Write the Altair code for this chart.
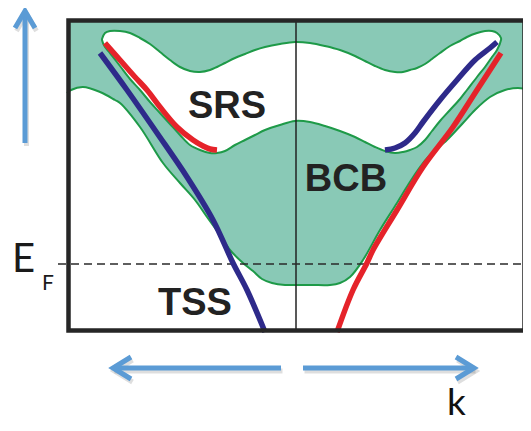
import altair as alt
import pandas as pd

# ---------------- data (schematic coordinates; k right, E down) -------------
# lower boundary of the bulk conduction band (teal region boundary)
lower_k = [67, 71, 83, 100, 115, 120, 140, 163, 180, 195, 207, 220, 230, 243, 253, 262, 272, 285,
           295, 312, 330, 340, 350, 363, 380, 397, 408, 420, 430, 447, 463, 475, 490, 505, 518, 531]
lower_E = [93, 90, 87, 92, 100, 103, 127, 163, 183, 200, 217, 235, 250, 263, 271, 279, 283, 285,
           285, 285, 285, 283, 277, 260, 230, 203, 185, 167, 155, 140, 123, 110, 97, 90, 88, 90]

# white pocket (surface resonance gap) : upper and lower edges
pocket_k = [102, 105, 110, 120, 130, 140, 150, 160, 170, 180, 190, 200, 210, 217, 225, 235, 245, 255,
            265, 280, 295, 310, 325, 340, 355, 365, 375, 385, 395, 403, 410, 417, 425, 432, 440, 450,
            460, 467, 477, 485, 492, 497, 501]
pocket_top = [39, 33, 31, 31, 33, 38, 44, 52, 60, 67, 71, 72, 70, 67, 63, 58, 54, 50,
              47, 44, 42, 43, 46, 50, 56, 61, 66, 70, 72, 72, 70, 68, 64, 59, 53, 46,
              41, 37, 33, 31, 31, 33, 38]
pocket_bot = [40, 47, 53, 66, 79, 90, 102, 113, 124, 135, 145, 150, 153, 153, 151, 145, 140, 135,
              130, 125, 121, 122, 126, 131, 137, 142, 147, 151, 153, 152, 150, 147, 140, 131, 121, 110,
              99, 90, 77, 67, 57, 50, 40]

# topological surface state branches
tss_left_k = [100, 127, 157, 187, 213, 233, 247, 265]
tss_left_E = [53, 90, 133, 177, 220, 263, 290, 332]
tss_right_k = [337, 353, 367, 373, 397, 423, 453, 477, 501]
tss_right_E = [332, 290, 263, 250, 210, 167, 127, 90, 53]

# surface resonance state branches
srs_left_k = [105, 120, 135, 147, 160, 177, 193, 203, 210, 217]
srs_left_E = [43, 60, 77, 90, 107, 127, 140, 146, 149, 150]
srs_right_k = [385, 395, 405, 415, 423, 440, 457, 475, 490, 497]
srs_right_E = [150, 148, 143, 133, 122, 100, 80, 60, 48, 42]

# frame, k=0 line and Fermi level
frame_k = [68.5, 524.5]
frame_E = [20.5, 330.5]
gamma_k = 296
fermi_E = 264
fermi_k = [58, 531]

# labels
labels = ["SRS", "BCB", "TSS"]
label_k = [227, 346, 195]
label_E = [118, 191, 315]

# axis arrows (polylines)
arrow_id = ["up_s", "up_s", "up_h", "up_h", "up_h",
            "l_s", "l_s", "l_h", "l_h", "l_h",
            "r_s", "r_s", "r_h", "r_h", "r_h"]
arrow_k = [25, 25, 15, 25, 35,
           281, 113, 131, 113, 131,
           303, 474, 456, 474, 456]
arrow_E = [143, 11, 28, 11, 28,
           368, 368, 357, 368, 379,
           368, 368, 357, 368, 379]

# ---------------- chart -------------
W, H = 515, 415
X0, Y0 = 8, 8
xs = alt.Scale(domain=[X0, X0 + W], nice=False, zero=False)
ys = alt.Scale(domain=[Y0, Y0 + H], nice=False, zero=False, reverse=True)

def X(f):
    return alt.X(f, type="quantitative", scale=xs, axis=None)

def Y(f):
    return alt.Y(f, type="quantitative", scale=ys, axis=None)

TEAL = "#89C9B6"
GREEN = "#1E9A48"
RED = "#E5232A"
NAVY = "#2E2A8A"
ARROW = "#5B9BD5"
INK = "#222222"
SMOOTH = "catmull-rom"

lower_df = pd.DataFrame({"k": lower_k, "E": lower_E, "top": frame_E[0]})
pocket_df = pd.DataFrame({"k": pocket_k, "top": pocket_top, "bot": pocket_bot})
outline_df = pd.DataFrame({
    "k": pocket_k + pocket_k[::-1] + [pocket_k[0]],
    "E": pocket_top + pocket_bot[::-1] + [pocket_top[0]],
})
outline_df["i"] = range(len(outline_df))

def seg_df(parts):
    rows = []
    for name, ks, es in parts:
        for j, (a, b) in enumerate(zip(ks, es)):
            rows.append({"seg": name, "i": j, "k": a, "E": b})
    return pd.DataFrame(rows)

tss_df = seg_df([("L", tss_left_k, tss_left_E)])
tss_r_df = seg_df([("R", tss_right_k, tss_right_E)])
srs_l_df = seg_df([("L", srs_left_k, srs_left_E)])
srs_r_df = seg_df([("R", srs_right_k, srs_right_E)])

arrow_df = pd.DataFrame({"seg": arrow_id, "k": arrow_k, "E": arrow_E})
arrow_df["i"] = range(len(arrow_df))

teal = alt.Chart(lower_df).mark_area(color=TEAL, orient="vertical", clip=True,
                                     interpolate=SMOOTH).encode(
    x=X("k"), y=Y("E"), y2=alt.Y2("top"))
pocket = alt.Chart(pocket_df).mark_area(color="white", orient="vertical",
                                        interpolate=SMOOTH).encode(
    x=X("k"), y=Y("top"), y2=alt.Y2("bot"))
lower_line = alt.Chart(lower_df).mark_line(color=GREEN, strokeWidth=2, clip=True,
                                           interpolate=SMOOTH).encode(
    x=X("k"), y=Y("E"))
pocket_line = alt.Chart(outline_df).mark_line(color=GREEN, strokeWidth=2,
                                              interpolate=SMOOTH).encode(
    x=X("k"), y=Y("E"), order="i:Q")

gamma = alt.Chart(pd.DataFrame({"k": [gamma_k], "E": [frame_E[0]], "E2": [frame_E[1]]})).mark_rule(
    color=INK, strokeWidth=1.5).encode(x=X("k"), y=Y("E"), y2=alt.Y2("E2"))
fermi = alt.Chart(pd.DataFrame({"k": [fermi_k[0]], "k2": [fermi_k[1]], "E": [fermi_E]})).mark_rule(
    color="#2a2a2a", strokeWidth=1.6, strokeDash=[8, 5], clip=True).encode(
    x=X("k"), x2=alt.X2("k2"), y=Y("E"))

def band(df, color):
    return alt.Chart(df).mark_line(color=color, strokeWidth=5.5, strokeCap="butt",
                                   interpolate=SMOOTH).encode(
        x=X("k"), y=Y("E"), order="i:Q")

frame = alt.Chart(pd.DataFrame({"k": [frame_k[0]], "k2": [frame_k[1]],
                                "E": [frame_E[0]], "E2": [frame_E[1]]})).mark_rect(
    fill="transparent", stroke="#262626", strokeWidth=4.5).encode(
    x=X("k"), x2=alt.X2("k2"), y=Y("E"), y2=alt.Y2("E2"))

text = alt.Chart(pd.DataFrame({"t": labels, "k": label_k, "E": label_E})).mark_text(
    font="Liberation Sans", fontWeight="bold", fontSize=38, color=INK,
    align="center", baseline="alphabetic").encode(x=X("k"), y=Y("E"), text="t:N")

ef_E = alt.Chart(pd.DataFrame({"t": ["E"], "k": [12], "E": [272]})).mark_text(
    font="Lato", fontSize=40, color="#1a1a1a", align="left", baseline="alphabetic").encode(
    x=X("k"), y=Y("E"), text="t:N")
ef_F = alt.Chart(pd.DataFrame({"t": ["F"], "k": [42], "E": [290]})).mark_text(
    font="Lato", fontSize=21, color="#1a1a1a", align="left", baseline="alphabetic").encode(
    x=X("k"), y=Y("E"), text="t:N")
k_lab = alt.Chart(pd.DataFrame({"t": ["k"], "k": [447], "E": [415]})).mark_text(
    font="Lato", fontSize=37, color="#111111", align="left", baseline="alphabetic").encode(
    x=X("k"), y=Y("E"), text="t:N")

shadow = alt.Chart(arrow_df).transform_calculate(
    ks="datum.k + 1.5", Es="datum.E + 3").mark_line(
    color="#000000", opacity=0.13, strokeWidth=5, strokeJoin="miter").encode(
    x=X("ks"), y=Y("Es"), detail="seg:N", order="i:Q")
arrows = alt.Chart(arrow_df).mark_line(
    color=ARROW, strokeWidth=5, strokeJoin="miter", strokeCap="butt").encode(
    x=X("k"), y=Y("E"), detail="seg:N", order="i:Q")

chart = alt.layer(
    teal, pocket, lower_line, pocket_line, gamma, fermi,
    band(srs_l_df, RED), band(tss_r_df, RED), band(tss_df, NAVY), band(srs_r_df, NAVY),
    frame, text, ef_E, ef_F, k_lab, shadow, arrows,
).properties(
    width=W, height=H, padding=0, autosize=alt.AutoSizeParams(type="none"),
    background="white",
).configure_view(strokeWidth=0)

chart.save("out.html", embed_options={"renderer": "svg", "actions": False})
